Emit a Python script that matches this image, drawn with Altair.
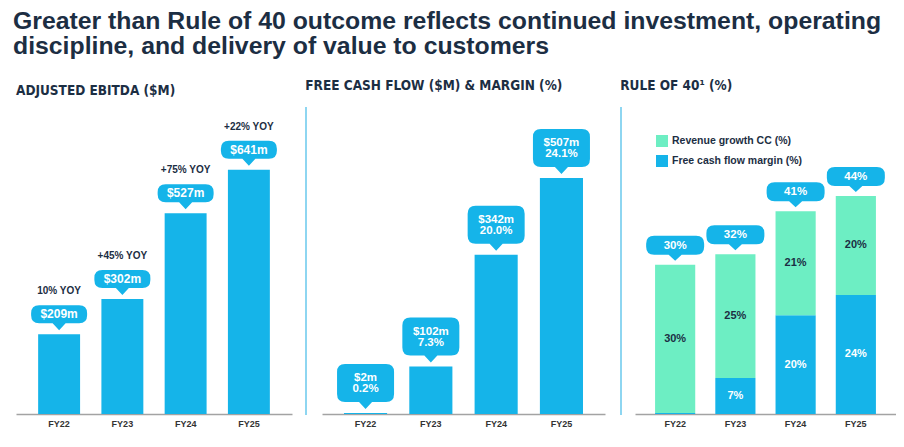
import altair as alt
import pandas as pd

# ---------------- data ----------------
years = ["FY22", "FY23", "FY24", "FY25"]
ebitda = [209, 302, 527, 641]
ebitda_yoy = ["10% YOY", "+45% YOY", "+75% YOY", "+22% YOY"]
fcf = [2, 102, 342, 507]
fcf_margin = [0.2, 7.3, 20.0, 24.1]
fcf_margin_labels = ["0.2%", "7.3%", "20.0%", "24.1%"]
rev_growth = [30, 25, 21, 20]
rule40 = [30, 32, 41, 44]
fcf_seg_labels = ["", "7%", "20%", "24%"]
rev_seg_labels = ["30%", "25%", "21%", "20%"]
series_names = ["Revenue growth CC (%)", "Free cash flow margin (%)"]

title_lines = [
    "Greater than Rule of 40 outcome reflects continued investment, operating",
    "discipline, and delivery of value to customers",
]
panel_titles = ["ADJUSTED EBITDA ($M)", "FREE CASH FLOW ($M) & MARGIN (%)", "RULE OF 40\u00b9 (%)"]

# ---------------- styles ----------------
BLUE = "#15B4E9"
GREEN = "#6DEEC3"
NAVY = "#1C2E43"
SEP = "#8ED6F1"
AXIS = "#A3A3A3"
TITLE_FONT = "Liberation Sans, Arial, sans-serif"
NARROW = "DejaVu Sans Condensed, Liberation Sans, sans-serif"
SANS = "Liberation Sans, Arial, sans-serif"


def callout_path(w, h, gap, ph, pw, r):
    hw = w / 2.0
    yb = -(gap + ph)
    yt = yb - h
    tip = -gap
    p = pw / 2.0
    return (
        f"M{-hw + r},{yt} L{hw - r},{yt} Q{hw},{yt} {hw},{yt + r} "
        f"L{hw},{yb - r} Q{hw},{yb} {hw - r},{yb} L{p},{yb} L0,{tip} L{-p},{yb} "
        f"L{-hw + r},{yb} Q{-hw},{yb} {-hw},{yb - r} L{-hw},{yt + r} Q{-hw},{yt} {-hw + r},{yt} Z"
    )


def x_enc(pi, po):
    return alt.X(
        "year:N",
        sort=years,
        scale=alt.Scale(paddingInner=pi, paddingOuter=po),
        axis=alt.Axis(
            title=None, labelAngle=0, ticks=False, domainColor=AXIS, domainWidth=1.5,
            labelFont=SANS, labelFontSize=9, labelFontWeight="bold", labelColor="#333333",
            labelPadding=5,
        ),
    )


def panel_title(t):
    return alt.TitleParams(
        t, anchor="start", font=NARROW, fontSize=13.5, fontWeight="bold", color=NAVY,
        offset=3, baseline="alphabetic",
    )


H = 303

# ---------------- panel 1 ----------------
df1 = pd.DataFrame({
    "year": years,
    "v": ebitda,
    "lab": [f"${v}m" for v in ebitda],
    "yoy": ebitda_yoy,
})
y1 = alt.Y("v:Q", scale=alt.Scale(domain=[0, 795]), axis=None)
b1 = alt.Chart(df1).encode(x=x_enc(0.337, 0.35), y=y1)
p1 = alt.layer(
    b1.mark_bar(color=BLUE),
    b1.mark_point(shape=callout_path(56, 18, 4, 7, 13, 8), size=4, filled=True, opacity=1, color=BLUE),
    b1.mark_text(dy=-20, font=SANS, fontSize=12, fontWeight="bold", color="white").encode(text="lab:N"),
    b1.mark_text(dy=-43, font=SANS, fontSize=10, fontWeight="bold", color=NAVY).encode(text="yoy:N"),
).properties(width=276, height=H, title=panel_title(panel_titles[0]))

# ---------------- panel 2 ----------------
df2 = pd.DataFrame({
    "year": years,
    "v": fcf,
    "lab": [f"${v}m" for v in fcf],
    "m": fcf_margin_labels,
})
y2 = alt.Y("v:Q", scale=alt.Scale(domain=[0, 651]), axis=None)
b2 = alt.Chart(df2).encode(x=x_enc(0.34, 0.337), y=y2)
sep2 = alt.Chart(df2).mark_rule(color=SEP, strokeWidth=1.5).encode(
    x=alt.value(-16), y=alt.value(-4), y2=alt.value(H + 1)
)
p2 = alt.layer(
    sep2,
    b2.mark_bar(color=BLUE),
    b2.mark_point(shape=callout_path(57, 38, 4, 7, 13, 8), size=4, filled=True, opacity=1, color=BLUE),
    b2.mark_text(dy=-35, font=SANS, fontSize=11.5, fontWeight="bold", color="white").encode(text="lab:N"),
    b2.mark_text(dy=-24, font=SANS, fontSize=11.5, fontWeight="bold", color="white").encode(text="m:N"),
).properties(width=283, height=H, title=panel_title(panel_titles[1]))

# ---------------- panel 3 ----------------
rows = []
for i, yr in enumerate(years):
    f0, f1 = 0.0, fcf_margin[i]
    r0, r1 = fcf_margin[i], fcf_margin[i] + rev_growth[i]
    rows.append({"year": yr, "s": series_names[1], "lo": f0, "hi": f1, "mid": (f0 + f1) / 2,
                 "lab": fcf_seg_labels[i], "tc": "white"})
    rows.append({"year": yr, "s": series_names[0], "lo": r0, "hi": r1, "mid": (r0 + r1) / 2,
                 "lab": rev_seg_labels[i], "tc": NAVY})
df3 = pd.DataFrame(rows)
df3t = pd.DataFrame({
    "year": years,
    "tot": [fcf_margin[i] + rev_growth[i] for i in range(4)],
    "lab": [f"{v}%" for v in rule40],
})
ysc3 = alt.Scale(domain=[0, 61.3])
x3 = x_enc(1 / 3, 1 / 3)
bars3 = alt.Chart(df3).mark_bar().encode(
    x=x3,
    y=alt.Y("lo:Q", scale=ysc3, axis=None),
    y2="hi:Q",
    color=alt.Color(
        "s:N",
        scale=alt.Scale(domain=series_names, range=[GREEN, BLUE]),
        legend=alt.Legend(
            title=None, orient="none", legendX=640, legendY=24, symbolType="square",
            symbolSize=144, symbolStrokeWidth=0, labelFont=SANS, labelFontSize=10.5,
            labelFontWeight="bold", labelColor=NAVY, rowPadding=8, labelOffset=4, padding=0,
        ),
    ),
)
seg_text = alt.Chart(df3).transform_filter("datum.lab != ''").mark_text(
    font=SANS, fontSize=11, fontWeight="bold"
).encode(
    x=x3, y=alt.Y("mid:Q", scale=ysc3, axis=None), text="lab:N",
    color=alt.Color("tc:N", scale=None, legend=None),
)
b3 = alt.Chart(df3t).encode(x=x3, y=alt.Y("tot:Q", scale=ysc3, axis=None))
sep3 = alt.Chart(df3t).mark_rule(color=SEP, strokeWidth=1.5).encode(
    x=alt.value(-14), y=alt.value(-4), y2=alt.value(H + 1)
)
p3 = alt.layer(
    sep3,
    bars3,
    seg_text,
    b3.mark_point(shape=callout_path(58, 19, 4, 6, 13, 8), size=4, filled=True, opacity=1, color=BLUE),
    b3.mark_text(dy=-19, font=SANS, fontSize=11.5, fontWeight="bold", color="white").encode(text="lab:N"),
).properties(width=261, height=H, title=panel_title(panel_titles[2]))

chart = alt.hconcat(p1, p2, p3, spacing=30, bounds="flush").properties(
    title=alt.TitleParams(
        title_lines, anchor="start", font=TITLE_FONT, fontSize=24.8, fontWeight="bold", color=NAVY,
        lineHeight=25, offset=0, dx=-3, baseline="alphabetic",
    ),
    padding={"left": 5, "top": 0, "right": 0, "bottom": 0},
    background="white",
).configure_view(stroke=None)

chart.save("out.html", embed_options={"renderer": "svg", "actions": False})
